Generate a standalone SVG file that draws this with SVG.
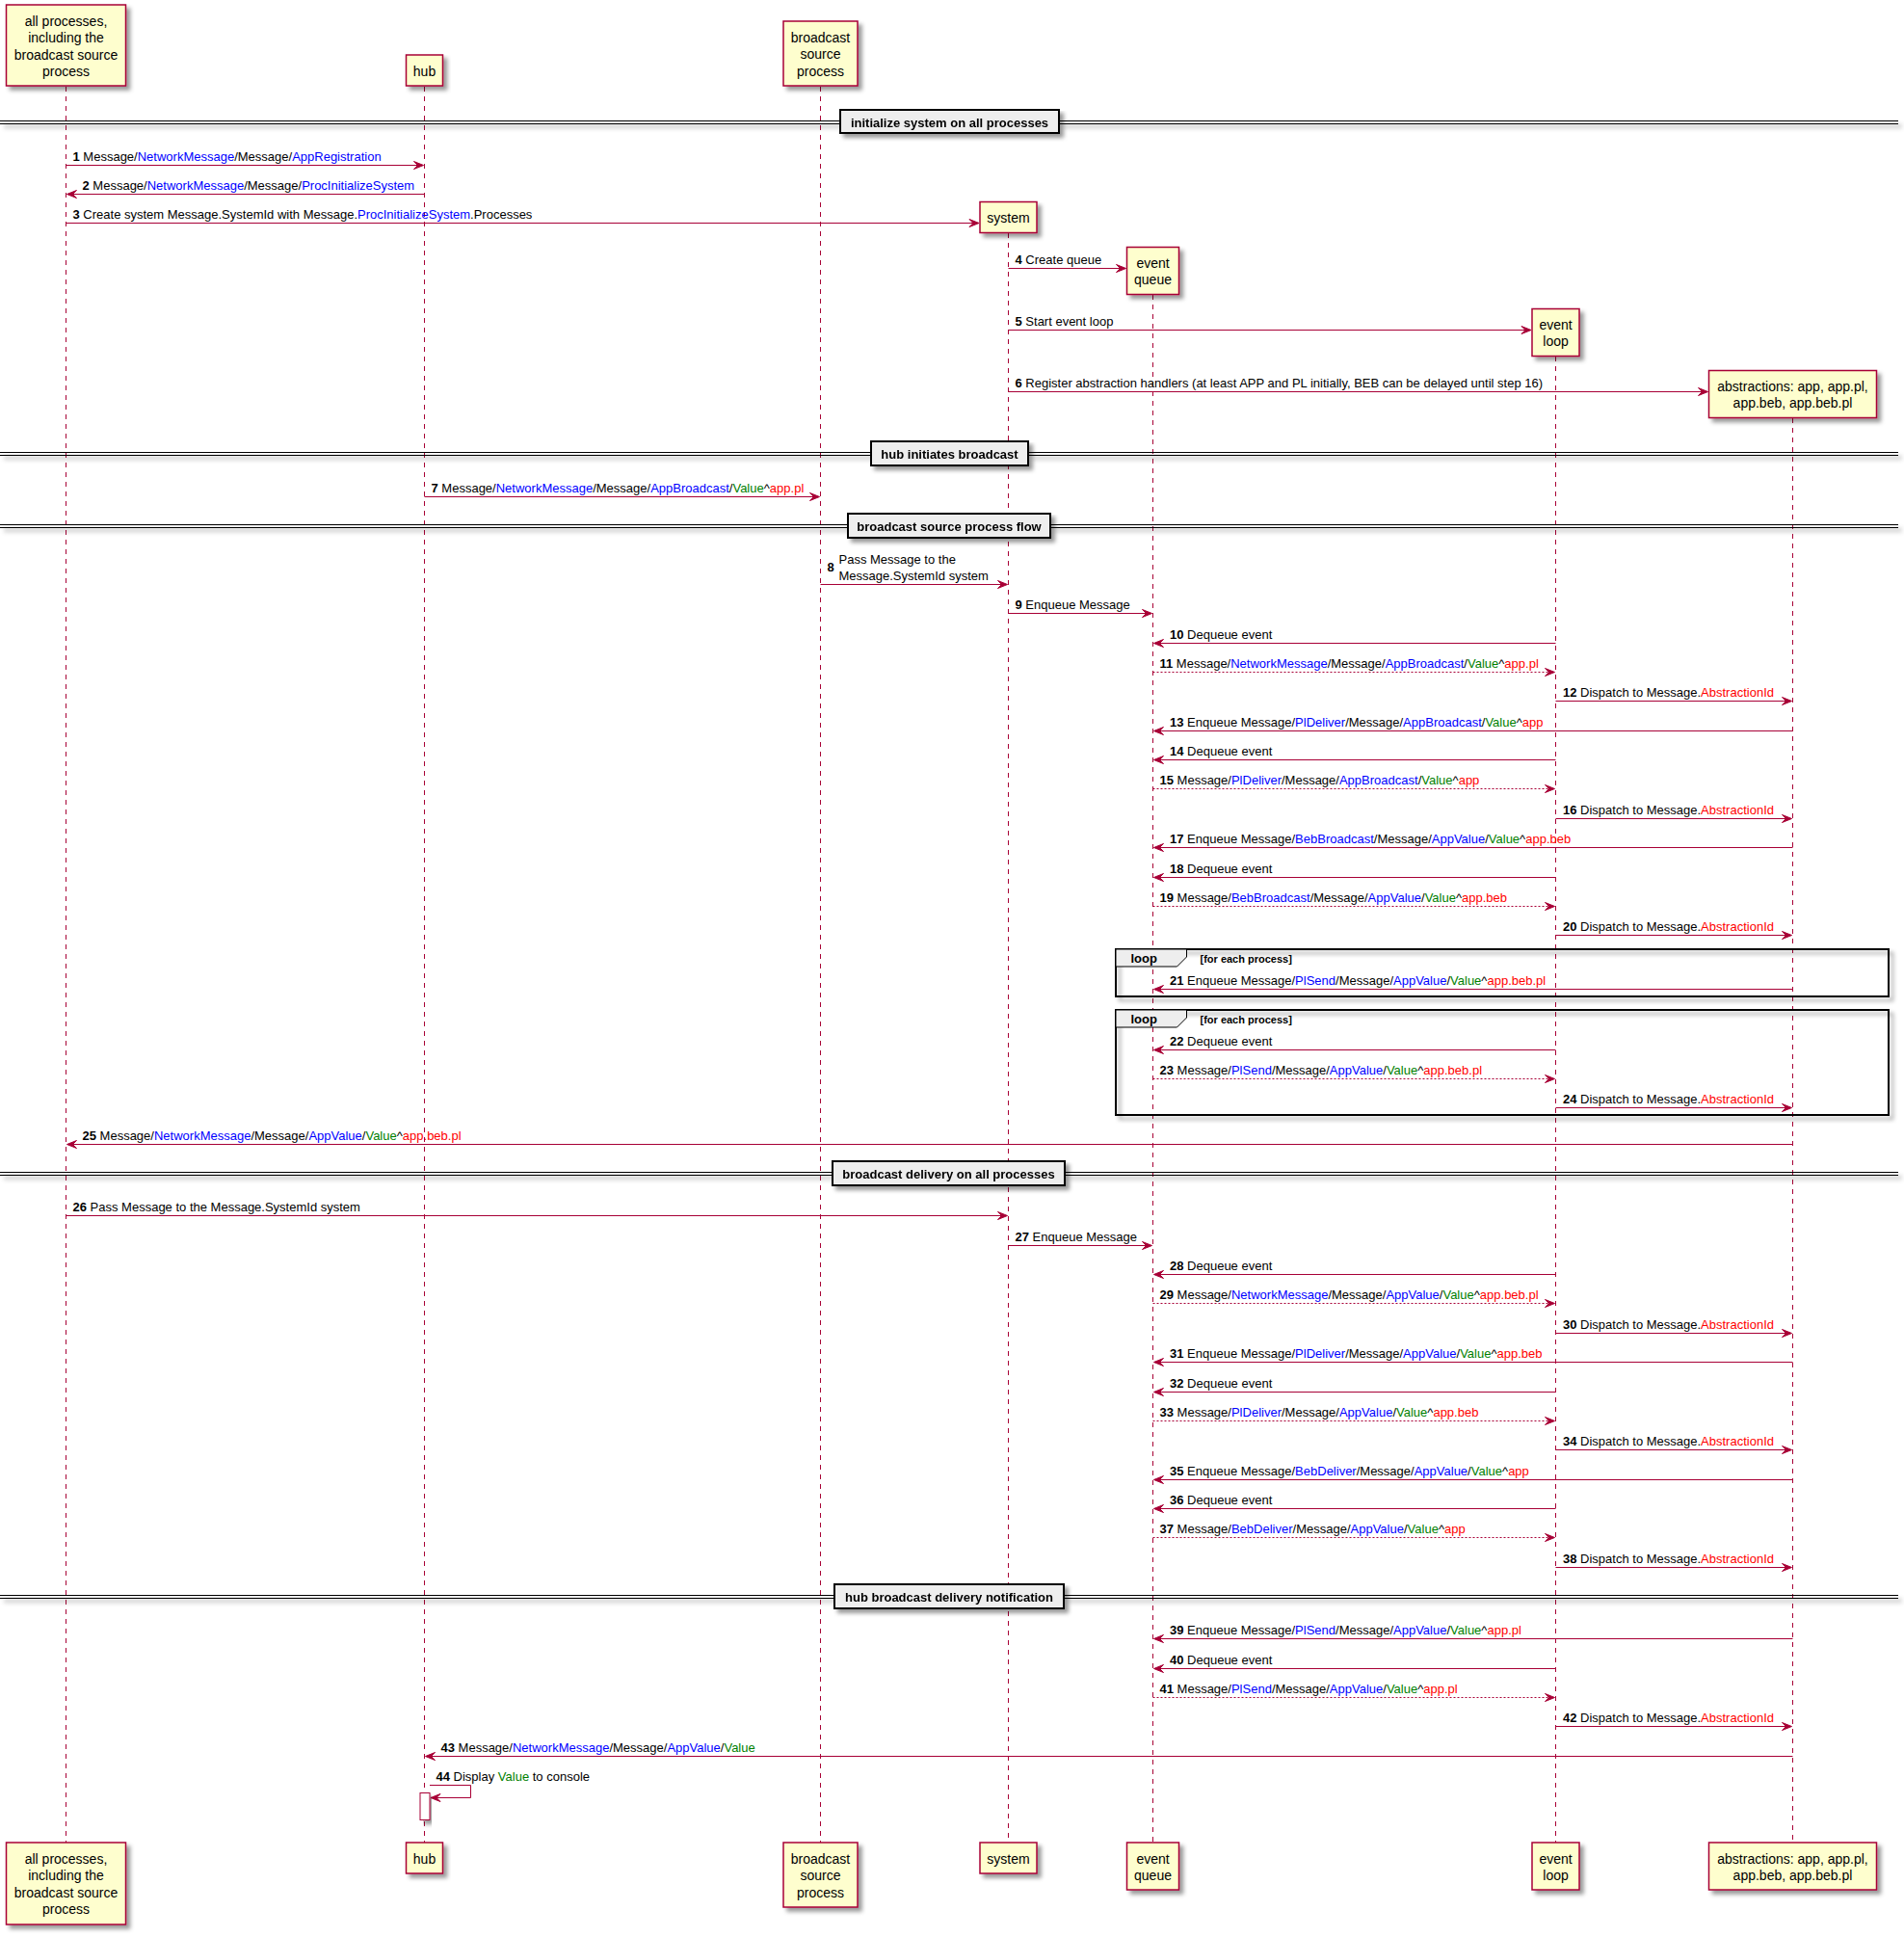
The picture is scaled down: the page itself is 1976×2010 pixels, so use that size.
<svg xmlns="http://www.w3.org/2000/svg" width="1976" height="2010" viewBox="0 0 1976 2010">
<defs>
<filter id="sh" x="-10%" y="-10%" width="130%" height="160%">
<feGaussianBlur in="SourceAlpha" stdDeviation="2" result="b"/>
<feColorMatrix in="b" type="matrix" values="0 0 0 0 0  0 0 0 0 0  0 0 0 0 0  0 0 0 .4 0" result="c"/>
<feOffset in="c" dx="4" dy="4" result="o"/>
<feMerge><feMergeNode in="o"/><feMergeNode in="SourceGraphic"/></feMerge>
</filter>
<style>
.box{fill:#FEFECE;stroke:#A80036;stroke-width:1.5}
.life{stroke:#A80036;stroke-width:1;stroke-dasharray:5,5}
.ln{stroke:#A80036;stroke-width:1;fill:none}
.dash{stroke-dasharray:2,2}
.ah{fill:#A80036;stroke:#A80036;stroke-width:1}
text{font-family:"Liberation Sans",Arial,Helvetica,sans-serif;fill:#000}
.pt{font-size:14px;text-anchor:middle}
.mt{font-size:13px}
.n{font-weight:bold}
.bl{fill:#0000FF}
.gr{fill:#008000}
.rd{fill:#FF0000}
.dl{stroke:#000;stroke-width:1}
.db{fill:#EEEEEE;stroke:#000;stroke-width:2}
.dt{font-size:13px;font-weight:bold;text-anchor:middle}
.fr{fill:none;stroke:#000;stroke-width:2}
.tab{fill:#EEEEEE;stroke:#000;stroke-width:1}
.lt{font-size:13px;font-weight:bold}
.lc{font-size:11px;font-weight:bold}
.act{fill:#FFFFFF;stroke:#A80036;stroke-width:1}
</style>
</defs>
<rect x="0" y="0" width="1976" height="2010" fill="#FFFFFF"/>

<g id="lifelines">
<line class="life" x1="68.5" y1="90" x2="68.5" y2="1912"/>
<line class="life" x1="440.5" y1="90" x2="440.5" y2="1912"/>
<line class="life" x1="851.5" y1="90" x2="851.5" y2="1912"/>
<line class="life" x1="1046.5" y1="242" x2="1046.5" y2="1912"/>
<line class="life" x1="1196.5" y1="306" x2="1196.5" y2="1912"/>
<line class="life" x1="1614.5" y1="370" x2="1614.5" y2="1912"/>
<line class="life" x1="1860.5" y1="434" x2="1860.5" y2="1912"/>
</g>

<g id="dividers">
<g id="div1" filter="url(#sh)"><line class="dl" x1="0" y1="125.5" x2="1970" y2="125.5"/><line class="dl" x1="0" y1="128.5" x2="1970" y2="128.5"/><rect class="db" x="872" y="114" width="227" height="24"/><text class="dt" x="985.5" y="132">initialize system on all processes</text></g>
<g id="div2" filter="url(#sh)"><line class="dl" x1="0" y1="469.5" x2="1970" y2="469.5"/><line class="dl" x1="0" y1="472.5" x2="1970" y2="472.5"/><rect class="db" x="904" y="458" width="163" height="25"/><text class="dt" x="985.5" y="476">hub initiates broadcast</text></g>
<g id="div3" filter="url(#sh)"><line class="dl" x1="0" y1="544.5" x2="1970" y2="544.5"/><line class="dl" x1="0" y1="547.5" x2="1970" y2="547.5"/><rect class="db" x="880" y="533" width="210" height="25"/><text class="dt" x="985" y="551">broadcast source process flow</text></g>
<g id="div4" filter="url(#sh)"><line class="dl" x1="0" y1="1216.5" x2="1970" y2="1216.5"/><line class="dl" x1="0" y1="1219.5" x2="1970" y2="1219.5"/><rect class="db" x="864" y="1205" width="241" height="25"/><text class="dt" x="984.5" y="1223">broadcast delivery on all processes</text></g>
<g id="div5" filter="url(#sh)"><line class="dl" x1="0" y1="1655.5" x2="1970" y2="1655.5"/><line class="dl" x1="0" y1="1658.5" x2="1970" y2="1658.5"/><rect class="db" x="866" y="1644" width="238" height="25"/><text class="dt" x="985" y="1662">hub broadcast delivery notification</text></g>
</g>

<g id="loops">
<g id="loop1"><rect class="fr" x="1158" y="985" width="802" height="49" filter="url(#sh)"/><polygon class="tab" points="1158,985 1231.5,985 1231.5,993 1221.5,1003 1158,1003"/><text class="lt" x="1173.5" y="999">loop</text><text class="lc" x="1245.5" y="998.5">[for each process]</text></g>
<g id="loop2"><rect class="fr" x="1158" y="1048" width="802" height="109" filter="url(#sh)"/><polygon class="tab" points="1158,1048 1231.5,1048 1231.5,1056 1221.5,1066 1158,1066"/><text class="lt" x="1173.5" y="1062">loop</text><text class="lc" x="1245.5" y="1061.5">[for each process]</text></g>
</g>

<g id="connectors">
<g><line class="ln" x1="68.5" y1="171.5" x2="438" y2="171.5"/><polygon class="ah" points="429.5,167.5 439.5,171.5 429.5,175.5 433.5,171.5"/><text class="mt" x="75.5" y="166.5"><tspan class="n">1</tspan> Message/<tspan class="bl">NetworkMessage</tspan>/Message/<tspan class="bl">AppRegistration</tspan></text></g>
<g><line class="ln" x1="71" y1="201.5" x2="440.5" y2="201.5"/><polygon class="ah" points="79.5,197.5 69.5,201.5 79.5,205.5 75.5,201.5"/><text class="mt" x="85.5" y="196.5"><tspan class="n">2</tspan> Message/<tspan class="bl">NetworkMessage</tspan>/Message/<tspan class="bl">ProcInitializeSystem</tspan></text></g>
<g><line class="ln" x1="68.5" y1="231.5" x2="1014" y2="231.5"/><polygon class="ah" points="1006,227.5 1016,231.5 1006,235.5 1010,231.5"/><text class="mt" x="75.5" y="226.5"><tspan class="n">3</tspan> Create system Message.SystemId with Message.<tspan class="bl">ProcInitializeSystem</tspan>.Processes</text></g>
<g><line class="ln" x1="1046.5" y1="278.5" x2="1167" y2="278.5"/><polygon class="ah" points="1158.5,274.5 1168.5,278.5 1158.5,282.5 1162.5,278.5"/><text class="mt" x="1053.5" y="273.5"><tspan class="n">4</tspan> Create queue</text></g>
<g><line class="ln" x1="1046.5" y1="342.5" x2="1587.5" y2="342.5"/><polygon class="ah" points="1579,338.5 1589,342.5 1579,346.5 1583,342.5"/><text class="mt" x="1053.5" y="337.5"><tspan class="n">5</tspan> Start event loop</text></g>
<g><line class="ln" x1="1046.5" y1="406.5" x2="1771" y2="406.5"/><polygon class="ah" points="1762.5,402.5 1772.5,406.5 1762.5,410.5 1766.5,406.5"/><text class="mt" x="1053.5" y="401.5"><tspan class="n">6</tspan> Register abstraction handlers (at least APP and PL initially, BEB can be delayed until step 16)</text></g>
<g><line class="ln" x1="440.5" y1="515.5" x2="849" y2="515.5"/><polygon class="ah" points="840.5,511.5 850.5,515.5 840.5,519.5 844.5,515.5"/><text class="mt" x="447.5" y="510.5"><tspan class="n">7</tspan> Message/<tspan class="bl">NetworkMessage</tspan>/Message/<tspan class="bl">AppBroadcast</tspan>/<tspan class="gr">Value</tspan>^<tspan class="rd">app.pl</tspan></text></g>
<g><line class="ln" x1="851.5" y1="606.5" x2="1044" y2="606.5"/><polygon class="ah" points="1035.5,602.5 1045.5,606.5 1035.5,610.5 1039.5,606.5"/><text class="mt n" x="858.5" y="593">8</text><text class="mt" x="870.5" y="585">Pass Message to the</text><text class="mt" x="870.5" y="601.5">Message.SystemId system</text></g>
<g><line class="ln" x1="1046.5" y1="636.5" x2="1194" y2="636.5"/><polygon class="ah" points="1185.5,632.5 1195.5,636.5 1185.5,640.5 1189.5,636.5"/><text class="mt" x="1053.5" y="631.5"><tspan class="n">9</tspan> Enqueue Message</text></g>
<g><line class="ln" x1="1199" y1="667.5" x2="1614.5" y2="667.5"/><polygon class="ah" points="1207.5,663.5 1197.5,667.5 1207.5,671.5 1203.5,667.5"/><text class="mt" x="1214" y="662.5"><tspan class="n">10</tspan> Dequeue event</text></g>
<g><line class="ln dash" x1="1196.5" y1="697.5" x2="1612" y2="697.5"/><polygon class="ah" points="1603.5,693.5 1613.5,697.5 1603.5,701.5 1607.5,697.5"/><text class="mt" x="1203.5" y="692.5"><tspan class="n">11</tspan> Message/<tspan class="bl">NetworkMessage</tspan>/Message/<tspan class="bl">AppBroadcast</tspan>/<tspan class="gr">Value</tspan>^<tspan class="rd">app.pl</tspan></text></g>
<g><line class="ln" x1="1614.5" y1="727.5" x2="1858" y2="727.5"/><polygon class="ah" points="1849.5,723.5 1859.5,727.5 1849.5,731.5 1853.5,727.5"/><text class="mt" x="1622" y="722.5"><tspan class="n">12</tspan> Dispatch to Message.<tspan class="rd">AbstractionId</tspan></text></g>
<g><line class="ln" x1="1199" y1="758.5" x2="1860.5" y2="758.5"/><polygon class="ah" points="1207.5,754.5 1197.5,758.5 1207.5,762.5 1203.5,758.5"/><text class="mt" x="1214" y="753.5"><tspan class="n">13</tspan> Enqueue Message/<tspan class="bl">PlDeliver</tspan>/Message/<tspan class="bl">AppBroadcast</tspan>/<tspan class="gr">Value</tspan>^<tspan class="rd">app</tspan></text></g>
<g><line class="ln" x1="1199" y1="788.5" x2="1614.5" y2="788.5"/><polygon class="ah" points="1207.5,784.5 1197.5,788.5 1207.5,792.5 1203.5,788.5"/><text class="mt" x="1214" y="783.5"><tspan class="n">14</tspan> Dequeue event</text></g>
<g><line class="ln dash" x1="1196.5" y1="818.5" x2="1612" y2="818.5"/><polygon class="ah" points="1603.5,814.5 1613.5,818.5 1603.5,822.5 1607.5,818.5"/><text class="mt" x="1203.5" y="813.5"><tspan class="n">15</tspan> Message/<tspan class="bl">PlDeliver</tspan>/Message/<tspan class="bl">AppBroadcast</tspan>/<tspan class="gr">Value</tspan>^<tspan class="rd">app</tspan></text></g>
<g><line class="ln" x1="1614.5" y1="849.5" x2="1858" y2="849.5"/><polygon class="ah" points="1849.5,845.5 1859.5,849.5 1849.5,853.5 1853.5,849.5"/><text class="mt" x="1622" y="844.5"><tspan class="n">16</tspan> Dispatch to Message.<tspan class="rd">AbstractionId</tspan></text></g>
<g><line class="ln" x1="1199" y1="879.5" x2="1860.5" y2="879.5"/><polygon class="ah" points="1207.5,875.5 1197.5,879.5 1207.5,883.5 1203.5,879.5"/><text class="mt" x="1214" y="874.5"><tspan class="n">17</tspan> Enqueue Message/<tspan class="bl">BebBroadcast</tspan>/Message/<tspan class="bl">AppValue</tspan>/<tspan class="gr">Value</tspan>^<tspan class="rd">app.beb</tspan></text></g>
<g><line class="ln" x1="1199" y1="910.5" x2="1614.5" y2="910.5"/><polygon class="ah" points="1207.5,906.5 1197.5,910.5 1207.5,914.5 1203.5,910.5"/><text class="mt" x="1214" y="905.5"><tspan class="n">18</tspan> Dequeue event</text></g>
<g><line class="ln dash" x1="1196.5" y1="940.5" x2="1612" y2="940.5"/><polygon class="ah" points="1603.5,936.5 1613.5,940.5 1603.5,944.5 1607.5,940.5"/><text class="mt" x="1203.5" y="935.5"><tspan class="n">19</tspan> Message/<tspan class="bl">BebBroadcast</tspan>/Message/<tspan class="bl">AppValue</tspan>/<tspan class="gr">Value</tspan>^<tspan class="rd">app.beb</tspan></text></g>
<g><line class="ln" x1="1614.5" y1="970.5" x2="1858" y2="970.5"/><polygon class="ah" points="1849.5,966.5 1859.5,970.5 1849.5,974.5 1853.5,970.5"/><text class="mt" x="1622" y="965.5"><tspan class="n">20</tspan> Dispatch to Message.<tspan class="rd">AbstractionId</tspan></text></g>
<g><line class="ln" x1="1199" y1="1026.5" x2="1860.5" y2="1026.5"/><polygon class="ah" points="1207.5,1022.5 1197.5,1026.5 1207.5,1030.5 1203.5,1026.5"/><text class="mt" x="1214" y="1021.5"><tspan class="n">21</tspan> Enqueue Message/<tspan class="bl">PlSend</tspan>/Message/<tspan class="bl">AppValue</tspan>/<tspan class="gr">Value</tspan>^<tspan class="rd">app.beb.pl</tspan></text></g>
<g><line class="ln" x1="1199" y1="1089.5" x2="1614.5" y2="1089.5"/><polygon class="ah" points="1207.5,1085.5 1197.5,1089.5 1207.5,1093.5 1203.5,1089.5"/><text class="mt" x="1214" y="1084.5"><tspan class="n">22</tspan> Dequeue event</text></g>
<g><line class="ln dash" x1="1196.5" y1="1119.5" x2="1612" y2="1119.5"/><polygon class="ah" points="1603.5,1115.5 1613.5,1119.5 1603.5,1123.5 1607.5,1119.5"/><text class="mt" x="1203.5" y="1114.5"><tspan class="n">23</tspan> Message/<tspan class="bl">PlSend</tspan>/Message/<tspan class="bl">AppValue</tspan>/<tspan class="gr">Value</tspan>^<tspan class="rd">app.beb.pl</tspan></text></g>
<g><line class="ln" x1="1614.5" y1="1149.5" x2="1858" y2="1149.5"/><polygon class="ah" points="1849.5,1145.5 1859.5,1149.5 1849.5,1153.5 1853.5,1149.5"/><text class="mt" x="1622" y="1144.5"><tspan class="n">24</tspan> Dispatch to Message.<tspan class="rd">AbstractionId</tspan></text></g>
<g><line class="ln" x1="71" y1="1187.5" x2="1860.5" y2="1187.5"/><polygon class="ah" points="79.5,1183.5 69.5,1187.5 79.5,1191.5 75.5,1187.5"/><text class="mt" x="85.5" y="1182.5"><tspan class="n">25</tspan> Message/<tspan class="bl">NetworkMessage</tspan>/Message/<tspan class="bl">AppValue</tspan>/<tspan class="gr">Value</tspan>^<tspan class="rd">app.beb.pl</tspan></text></g>
<g><line class="ln" x1="68.5" y1="1261.5" x2="1044" y2="1261.5"/><polygon class="ah" points="1035.5,1257.5 1045.5,1261.5 1035.5,1265.5 1039.5,1261.5"/><text class="mt" x="75.5" y="1256.5"><tspan class="n">26</tspan> Pass Message to the Message.SystemId system</text></g>
<g><line class="ln" x1="1046.5" y1="1292.5" x2="1194" y2="1292.5"/><polygon class="ah" points="1185.5,1288.5 1195.5,1292.5 1185.5,1296.5 1189.5,1292.5"/><text class="mt" x="1053.5" y="1287.5"><tspan class="n">27</tspan> Enqueue Message</text></g>
<g><line class="ln" x1="1199" y1="1322.5" x2="1614.5" y2="1322.5"/><polygon class="ah" points="1207.5,1318.5 1197.5,1322.5 1207.5,1326.5 1203.5,1322.5"/><text class="mt" x="1214" y="1317.5"><tspan class="n">28</tspan> Dequeue event</text></g>
<g><line class="ln dash" x1="1196.5" y1="1352.5" x2="1612" y2="1352.5"/><polygon class="ah" points="1603.5,1348.5 1613.5,1352.5 1603.5,1356.5 1607.5,1352.5"/><text class="mt" x="1203.5" y="1347.5"><tspan class="n">29</tspan> Message/<tspan class="bl">NetworkMessage</tspan>/Message/<tspan class="bl">AppValue</tspan>/<tspan class="gr">Value</tspan>^<tspan class="rd">app.beb.pl</tspan></text></g>
<g><line class="ln" x1="1614.5" y1="1383.5" x2="1858" y2="1383.5"/><polygon class="ah" points="1849.5,1379.5 1859.5,1383.5 1849.5,1387.5 1853.5,1383.5"/><text class="mt" x="1622" y="1378.5"><tspan class="n">30</tspan> Dispatch to Message.<tspan class="rd">AbstractionId</tspan></text></g>
<g><line class="ln" x1="1199" y1="1413.5" x2="1860.5" y2="1413.5"/><polygon class="ah" points="1207.5,1409.5 1197.5,1413.5 1207.5,1417.5 1203.5,1413.5"/><text class="mt" x="1214" y="1408.5"><tspan class="n">31</tspan> Enqueue Message/<tspan class="bl">PlDeliver</tspan>/Message/<tspan class="bl">AppValue</tspan>/<tspan class="gr">Value</tspan>^<tspan class="rd">app.beb</tspan></text></g>
<g><line class="ln" x1="1199" y1="1444.5" x2="1614.5" y2="1444.5"/><polygon class="ah" points="1207.5,1440.5 1197.5,1444.5 1207.5,1448.5 1203.5,1444.5"/><text class="mt" x="1214" y="1439.5"><tspan class="n">32</tspan> Dequeue event</text></g>
<g><line class="ln dash" x1="1196.5" y1="1474.5" x2="1612" y2="1474.5"/><polygon class="ah" points="1603.5,1470.5 1613.5,1474.5 1603.5,1478.5 1607.5,1474.5"/><text class="mt" x="1203.5" y="1469.5"><tspan class="n">33</tspan> Message/<tspan class="bl">PlDeliver</tspan>/Message/<tspan class="bl">AppValue</tspan>/<tspan class="gr">Value</tspan>^<tspan class="rd">app.beb</tspan></text></g>
<g><line class="ln" x1="1614.5" y1="1504.5" x2="1858" y2="1504.5"/><polygon class="ah" points="1849.5,1500.5 1859.5,1504.5 1849.5,1508.5 1853.5,1504.5"/><text class="mt" x="1622" y="1499.5"><tspan class="n">34</tspan> Dispatch to Message.<tspan class="rd">AbstractionId</tspan></text></g>
<g><line class="ln" x1="1199" y1="1535.5" x2="1860.5" y2="1535.5"/><polygon class="ah" points="1207.5,1531.5 1197.5,1535.5 1207.5,1539.5 1203.5,1535.5"/><text class="mt" x="1214" y="1530.5"><tspan class="n">35</tspan> Enqueue Message/<tspan class="bl">BebDeliver</tspan>/Message/<tspan class="bl">AppValue</tspan>/<tspan class="gr">Value</tspan>^<tspan class="rd">app</tspan></text></g>
<g><line class="ln" x1="1199" y1="1565.5" x2="1614.5" y2="1565.5"/><polygon class="ah" points="1207.5,1561.5 1197.5,1565.5 1207.5,1569.5 1203.5,1565.5"/><text class="mt" x="1214" y="1560.5"><tspan class="n">36</tspan> Dequeue event</text></g>
<g><line class="ln dash" x1="1196.5" y1="1595.5" x2="1612" y2="1595.5"/><polygon class="ah" points="1603.5,1591.5 1613.5,1595.5 1603.5,1599.5 1607.5,1595.5"/><text class="mt" x="1203.5" y="1590.5"><tspan class="n">37</tspan> Message/<tspan class="bl">BebDeliver</tspan>/Message/<tspan class="bl">AppValue</tspan>/<tspan class="gr">Value</tspan>^<tspan class="rd">app</tspan></text></g>
<g><line class="ln" x1="1614.5" y1="1626.5" x2="1858" y2="1626.5"/><polygon class="ah" points="1849.5,1622.5 1859.5,1626.5 1849.5,1630.5 1853.5,1626.5"/><text class="mt" x="1622" y="1621.5"><tspan class="n">38</tspan> Dispatch to Message.<tspan class="rd">AbstractionId</tspan></text></g>
<g><line class="ln" x1="1199" y1="1700.5" x2="1860.5" y2="1700.5"/><polygon class="ah" points="1207.5,1696.5 1197.5,1700.5 1207.5,1704.5 1203.5,1700.5"/><text class="mt" x="1214" y="1695.5"><tspan class="n">39</tspan> Enqueue Message/<tspan class="bl">PlSend</tspan>/Message/<tspan class="bl">AppValue</tspan>/<tspan class="gr">Value</tspan>^<tspan class="rd">app.pl</tspan></text></g>
<g><line class="ln" x1="1199" y1="1731.5" x2="1614.5" y2="1731.5"/><polygon class="ah" points="1207.5,1727.5 1197.5,1731.5 1207.5,1735.5 1203.5,1731.5"/><text class="mt" x="1214" y="1726.5"><tspan class="n">40</tspan> Dequeue event</text></g>
<g><line class="ln dash" x1="1196.5" y1="1761.5" x2="1612" y2="1761.5"/><polygon class="ah" points="1603.5,1757.5 1613.5,1761.5 1603.5,1765.5 1607.5,1761.5"/><text class="mt" x="1203.5" y="1756.5"><tspan class="n">41</tspan> Message/<tspan class="bl">PlSend</tspan>/Message/<tspan class="bl">AppValue</tspan>/<tspan class="gr">Value</tspan>^<tspan class="rd">app.pl</tspan></text></g>
<g><line class="ln" x1="1614.5" y1="1791.5" x2="1858" y2="1791.5"/><polygon class="ah" points="1849.5,1787.5 1859.5,1791.5 1849.5,1795.5 1853.5,1791.5"/><text class="mt" x="1622" y="1786.5"><tspan class="n">42</tspan> Dispatch to Message.<tspan class="rd">AbstractionId</tspan></text></g>
<g><line class="ln" x1="443" y1="1822.5" x2="1860.5" y2="1822.5"/><polygon class="ah" points="451.5,1818.5 441.5,1822.5 451.5,1826.5 447.5,1822.5"/><text class="mt" x="457.5" y="1817.5"><tspan class="n">43</tspan> Message/<tspan class="bl">NetworkMessage</tspan>/Message/<tspan class="bl">AppValue</tspan>/<tspan class="gr">Value</tspan></text></g>
<g><polyline class="ln" points="446,1852.5 488.5,1852.5 488.5,1865.5 449,1865.5"/><polygon class="ah" points="457,1861.5 447,1865.5 457,1869.5 453,1865.5"/><text class="mt" x="452.5" y="1847.5"><tspan class="n">44</tspan> Display <tspan class="gr">Value</tspan> to console</text></g>
</g>

<g id="activation"><rect class="act" x="436" y="1860.5" width="10" height="28" filter="url(#sh)"/></g>

<g id="p-all">
<rect class="box" x="6.5" y="5" width="124" height="84" filter="url(#sh)"/>
<text class="pt" x="68.5" y="27">all processes,</text><text class="pt" x="68.5" y="44.3">including the</text><text class="pt" x="68.5" y="61.6">broadcast source</text><text class="pt" x="68.5" y="78.9">process</text>
<rect class="box" x="6.5" y="1912" width="124" height="85" filter="url(#sh)"/>
<text class="pt" x="68.5" y="1934">all processes,</text><text class="pt" x="68.5" y="1951.3">including the</text><text class="pt" x="68.5" y="1968.6">broadcast source</text><text class="pt" x="68.5" y="1985.9">process</text>
</g>
<g id="p-hub">
<rect class="box" x="421.5" y="57" width="38" height="32" filter="url(#sh)"/><text class="pt" x="440.5" y="79">hub</text>
<rect class="box" x="421.5" y="1912" width="38" height="32" filter="url(#sh)"/><text class="pt" x="440.5" y="1934">hub</text>
</g>
<g id="p-bsp">
<rect class="box" x="813" y="22" width="77" height="67" filter="url(#sh)"/>
<text class="pt" x="851.5" y="44">broadcast</text><text class="pt" x="851.5" y="61.3">source</text><text class="pt" x="851.5" y="78.6">process</text>
<rect class="box" x="813" y="1912" width="77" height="67" filter="url(#sh)"/>
<text class="pt" x="851.5" y="1934">broadcast</text><text class="pt" x="851.5" y="1951.3">source</text><text class="pt" x="851.5" y="1968.6">process</text>
</g>
<g id="p-system">
<rect class="box" x="1017" y="209.5" width="59" height="32" filter="url(#sh)"/><text class="pt" x="1046.5" y="231">system</text>
<rect class="box" x="1017" y="1912" width="59" height="32" filter="url(#sh)"/><text class="pt" x="1046.5" y="1934">system</text>
</g>
<g id="p-eventqueue">
<rect class="box" x="1169.5" y="256.5" width="54" height="49" filter="url(#sh)"/><text class="pt" x="1196.5" y="278">event</text><text class="pt" x="1196.5" y="295.3">queue</text>
<rect class="box" x="1169.5" y="1912" width="54" height="49" filter="url(#sh)"/><text class="pt" x="1196.5" y="1934">event</text><text class="pt" x="1196.5" y="1951.3">queue</text>
</g>
<g id="p-eventloop">
<rect class="box" x="1590" y="320.5" width="49" height="49" filter="url(#sh)"/><text class="pt" x="1614.5" y="342">event</text><text class="pt" x="1614.5" y="359.3">loop</text>
<rect class="box" x="1590" y="1912" width="49" height="49" filter="url(#sh)"/><text class="pt" x="1614.5" y="1934">event</text><text class="pt" x="1614.5" y="1951.3">loop</text>
</g>
<g id="p-abstractions">
<rect class="box" x="1773.5" y="384.5" width="174" height="49" filter="url(#sh)"/><text class="pt" x="1860.5" y="406">abstractions: app, app.pl,</text><text class="pt" x="1860.5" y="423.3">app.beb, app.beb.pl</text>
<rect class="box" x="1773.5" y="1912" width="174" height="49" filter="url(#sh)"/><text class="pt" x="1860.5" y="1934">abstractions: app, app.pl,</text><text class="pt" x="1860.5" y="1951.3">app.beb, app.beb.pl</text>
</g>
</svg>
